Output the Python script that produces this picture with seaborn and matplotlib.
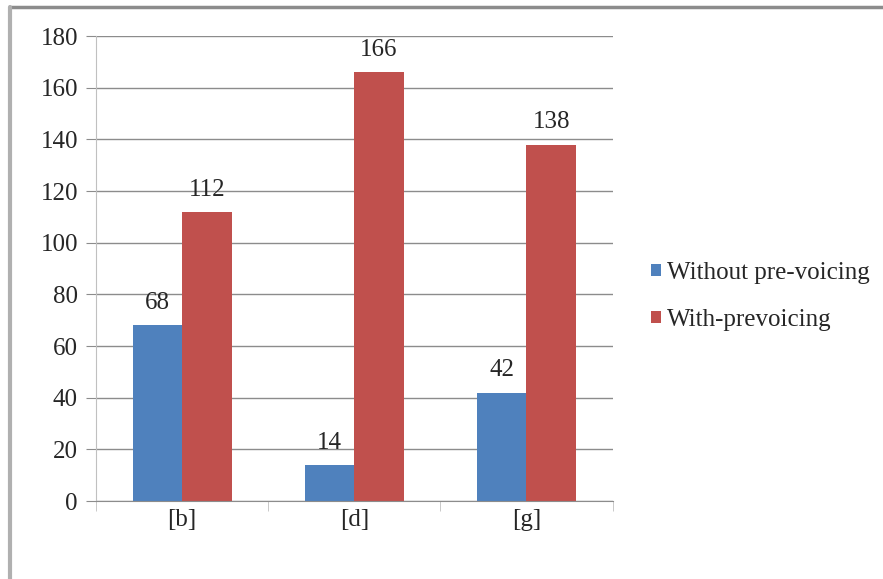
import pandas as pd
import matplotlib
matplotlib.use('Agg')
import matplotlib.pyplot as plt
import seaborn as sns

# --- Data ---
categories = ['[b]', '[d]', '[g]']
series_names = ['Without pre-voicing', 'With-prevoicing']
without_prevoicing = [68, 14, 42]
with_prevoicing = [112, 166, 138]
y_ticks = [0, 20, 40, 60, 80, 100, 120, 140, 160, 180]

df = pd.DataFrame({
    'sound': categories * 2,
    'series': [series_names[0]] * 3 + [series_names[1]] * 3,
    'count': without_prevoicing + with_prevoicing,
})

sns.set_style('white')
plt.rcParams['font.family'] = ['Liberation Serif', 'DejaVu Serif']
FS = 18

fig = plt.figure(figsize=(8.83, 5.79), dpi=100)
ax = fig.add_axes([0.1087, 0.1347, 0.585, 0.803])

colors = ['#4F81BD', '#C0504D']
sns.barplot(data=df, x='sound', y='count', hue='series', palette=colors,
            width=0.575, gap=0, ax=ax, saturation=1, linewidth=0)

for container in ax.containers:
    ax.bar_label(container, padding=8, fontsize=FS)

ax.set_xlim(-0.5, 2.5)
ax.set_ylim(0, 180)
ax.set_yticks(y_ticks)
ax.yaxis.grid(True, color='#8c8c8c', linewidth=1)
ax.set_axisbelow(True)
ax.set_xlabel('')
ax.set_ylabel('')

for side in ['top', 'right']:
    ax.spines[side].set_visible(False)
ax.spines['left'].set_color('#c0c0c0')
ax.spines['bottom'].set_color('#8c8c8c')

ax.tick_params(axis='y', length=7, color='#8c8c8c', labelsize=FS, pad=6, left=True)
ax.tick_params(axis='x', which='major', length=0, labelsize=FS, pad=6)
ax.set_xticks([-0.5, 0.5, 1.5, 2.5], minor=True)
ax.tick_params(axis='x', which='minor', length=7, color='#c0c0c0', bottom=True)

ax.legend(frameon=False, loc='center left', bbox_to_anchor=(1.05, 0.44),
          fontsize=FS, handlelength=0.4, handleheight=0.4, handletextpad=0.25,
          labelspacing=1.0, borderpad=0)

# frame line on top and left edge of the chart area
fig.add_artist(plt.Line2D([0.0115, 1.0], [0.988, 0.988], color='#8c8c8c', linewidth=2.5,
                          transform=fig.transFigure))
fig.add_artist(plt.Line2D([0.0115, 0.0115], [0.0, 0.988], color='#b0b0b0', linewidth=3,
                          transform=fig.transFigure))

plt.savefig('out.png', dpi=100)
plt.close()
